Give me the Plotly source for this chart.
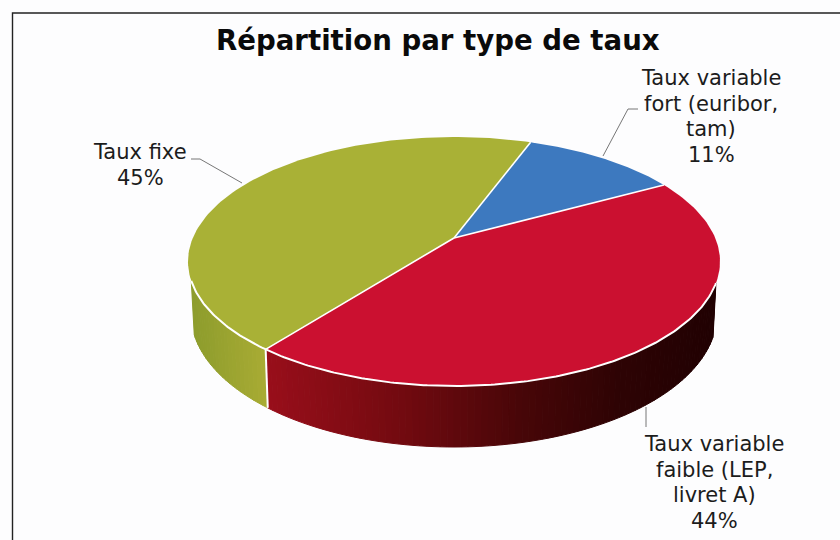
import numpy as np
import plotly.graph_objects as go

TITLE = "Répartition par type de taux"
labels = [["Taux variable", "fort (euribor,", "tam)"], ["Taux variable", "faible (LEP,", "livret A)"], ["Taux fixe"]]
values = [11.4, 43.5, 45.1]
shown = [11, 44, 45]
colors = ["#3D79BF", "#CB1030", "#A9B136"]
START_ANGLE = 69.8

CX, CY, RX, RY = 454.0, 261.5, 266.0, 124.5
BCY, BRX, BRY = 314.0, 263.0, 133.0
PERSP = 0.189


def top_xy(theta):
    """Project a true pie angle on to the tilted, perspective top face."""
    r = np.radians(theta)
    u, v = np.cos(r), np.sin(r)
    d = 1 + PERSP * v
    return CX + RX * u * np.sqrt(1 - PERSP ** 2) / d, CY - RY * (v + PERSP) / d


def warp(theta):
    x, y = top_xy(theta)
    return np.degrees(np.arctan2(-(y - CY) / RY, (x - CX) / RX)) % 360


def ell_top(t):
    r = np.radians(t)
    return CX + RX * np.cos(r), CY - RY * np.sin(r)


def ell_bottom(t):
    r = np.radians(t)
    return CX + BRX * np.cos(r), BCY - BRY * np.sin(r)


def mix(stops, pos):
    xs = [s[0] for s in stops]
    rgb = [int(round(np.interp(pos, xs, [s[1][i] for s in stops]))) for i in range(3)]
    return f"rgb({rgb[0]},{rgb[1]},{rgb[2]})"


side_stops = {
    1: [(270, (152, 14, 26)), (400, (115, 10, 16)), (520, (72, 6, 8)), (620, (46, 3, 4)), (720, (32, 1, 2))],
    2: [(190, (140, 156, 44)), (270, (170, 172, 52))],
}

fig = go.Figure()

edges = START_ANGLE - np.cumsum([0] + values) * 360.0 / sum(values)
FRONT_L, FRONT_R = 189.0, 350.0

seam = warp(edges[2]) % 360
ts = np.arange(FRONT_L, FRONT_R, 1.5)
for t0 in ts:
    t1 = min(t0 + 1.5, FRONT_R)
    idx = 2 if t0 < seam else 1
    xa, ya = ell_top(t0)
    xb, yb = ell_top(t1)
    xc, yc = ell_bottom(t1)
    xd, yd = ell_bottom(t0)
    col = mix(side_stops[idx], (xa + xb) / 2)
    fig.add_trace(go.Scatter(
        x=[xa, xb, xc, xd, xa], y=[ya, yb, yc, yd, ya], mode="lines", fill="toself",
        fillcolor=col, line=dict(width=1, color=col),
        hoverinfo="skip", showlegend=False))

for i, v in enumerate(values):
    th = np.linspace(edges[i], edges[i + 1], 120)
    px, py = top_xy(th)
    x0, y0 = CX, CY - RY * PERSP
    fig.add_trace(go.Scatter(
        x=np.r_[x0, px, x0], y=np.r_[y0, py, y0], mode="lines", fill="toself",
        fillcolor=colors[i], line=dict(width=0), hoverinfo="skip", showlegend=False))

ts = np.linspace(FRONT_L, FRONT_R, 200)
rx, ry = ell_top(ts)
fig.add_trace(go.Scatter(x=rx, y=ry, mode="lines", line=dict(color="white", width=2),
                         hoverinfo="skip", showlegend=False))
for e in edges[:3]:
    ex, ey = top_xy(np.array([e]))
    fig.add_trace(go.Scatter(x=[CX, ex[0]], y=[CY - RY * PERSP, ey[0]], mode="lines",
                             line=dict(color="white", width=1.6), hoverinfo="skip", showlegend=False))
sx0, sy0 = ell_top(seam)
sx1, sy1 = ell_bottom(seam)
fig.add_trace(go.Scatter(x=[sx0, sx1], y=[sy0, sy1], mode="lines",
                         line=dict(color="white", width=2), hoverinfo="skip", showlegend=False))

leaders = [([638, 628, 603], [109, 109, 156]), ([646, 646], [407, 427]), ([191, 200, 242], [159, 159, 183])]
for lx, ly in leaders:
    fig.add_trace(go.Scatter(x=lx, y=ly, mode="lines", line=dict(color="#777777", width=1),
                             hoverinfo="skip", showlegend=False))

fig.add_trace(go.Scatter(x=[12.5, 12.5, 840], y=[540, 13, 13], mode="lines",
                         line=dict(color="#222222", width=1.4), hoverinfo="skip", showlegend=False))

LINE_STEP = 25.7
label_pos = [(711, 78), (714, 444), (140, 152)]
for lab, v, (ax, ay) in zip(labels, shown, label_pos):
    for k, line in enumerate(lab + [f"{v}%"]):
        fig.add_annotation(x=ax, y=ay + k * LINE_STEP, text=line, showarrow=False, align="center",
                           font=dict(family="DejaVu Sans", size=21, color="#1c1c1c"))
fig.add_annotation(x=438, y=40, text=f"<b>{TITLE}</b>", showarrow=False,
                   font=dict(family="DejaVu Sans", size=27.6, color="#0a0a0a"))

fig.update_layout(
    width=840, height=540, margin=dict(l=0, r=0, t=0, b=0),
    paper_bgcolor="#fdfdfe", plot_bgcolor="#fdfdfe", showlegend=False,
    xaxis=dict(range=[0, 840], visible=False, fixedrange=True),
    yaxis=dict(range=[540, 0], visible=False, fixedrange=True),
)
fig.write_html("out.html", config={"displayModeBar": False},
               post_script="document.body.style.margin='0';document.documentElement.style.background='#fdfdfe';")
